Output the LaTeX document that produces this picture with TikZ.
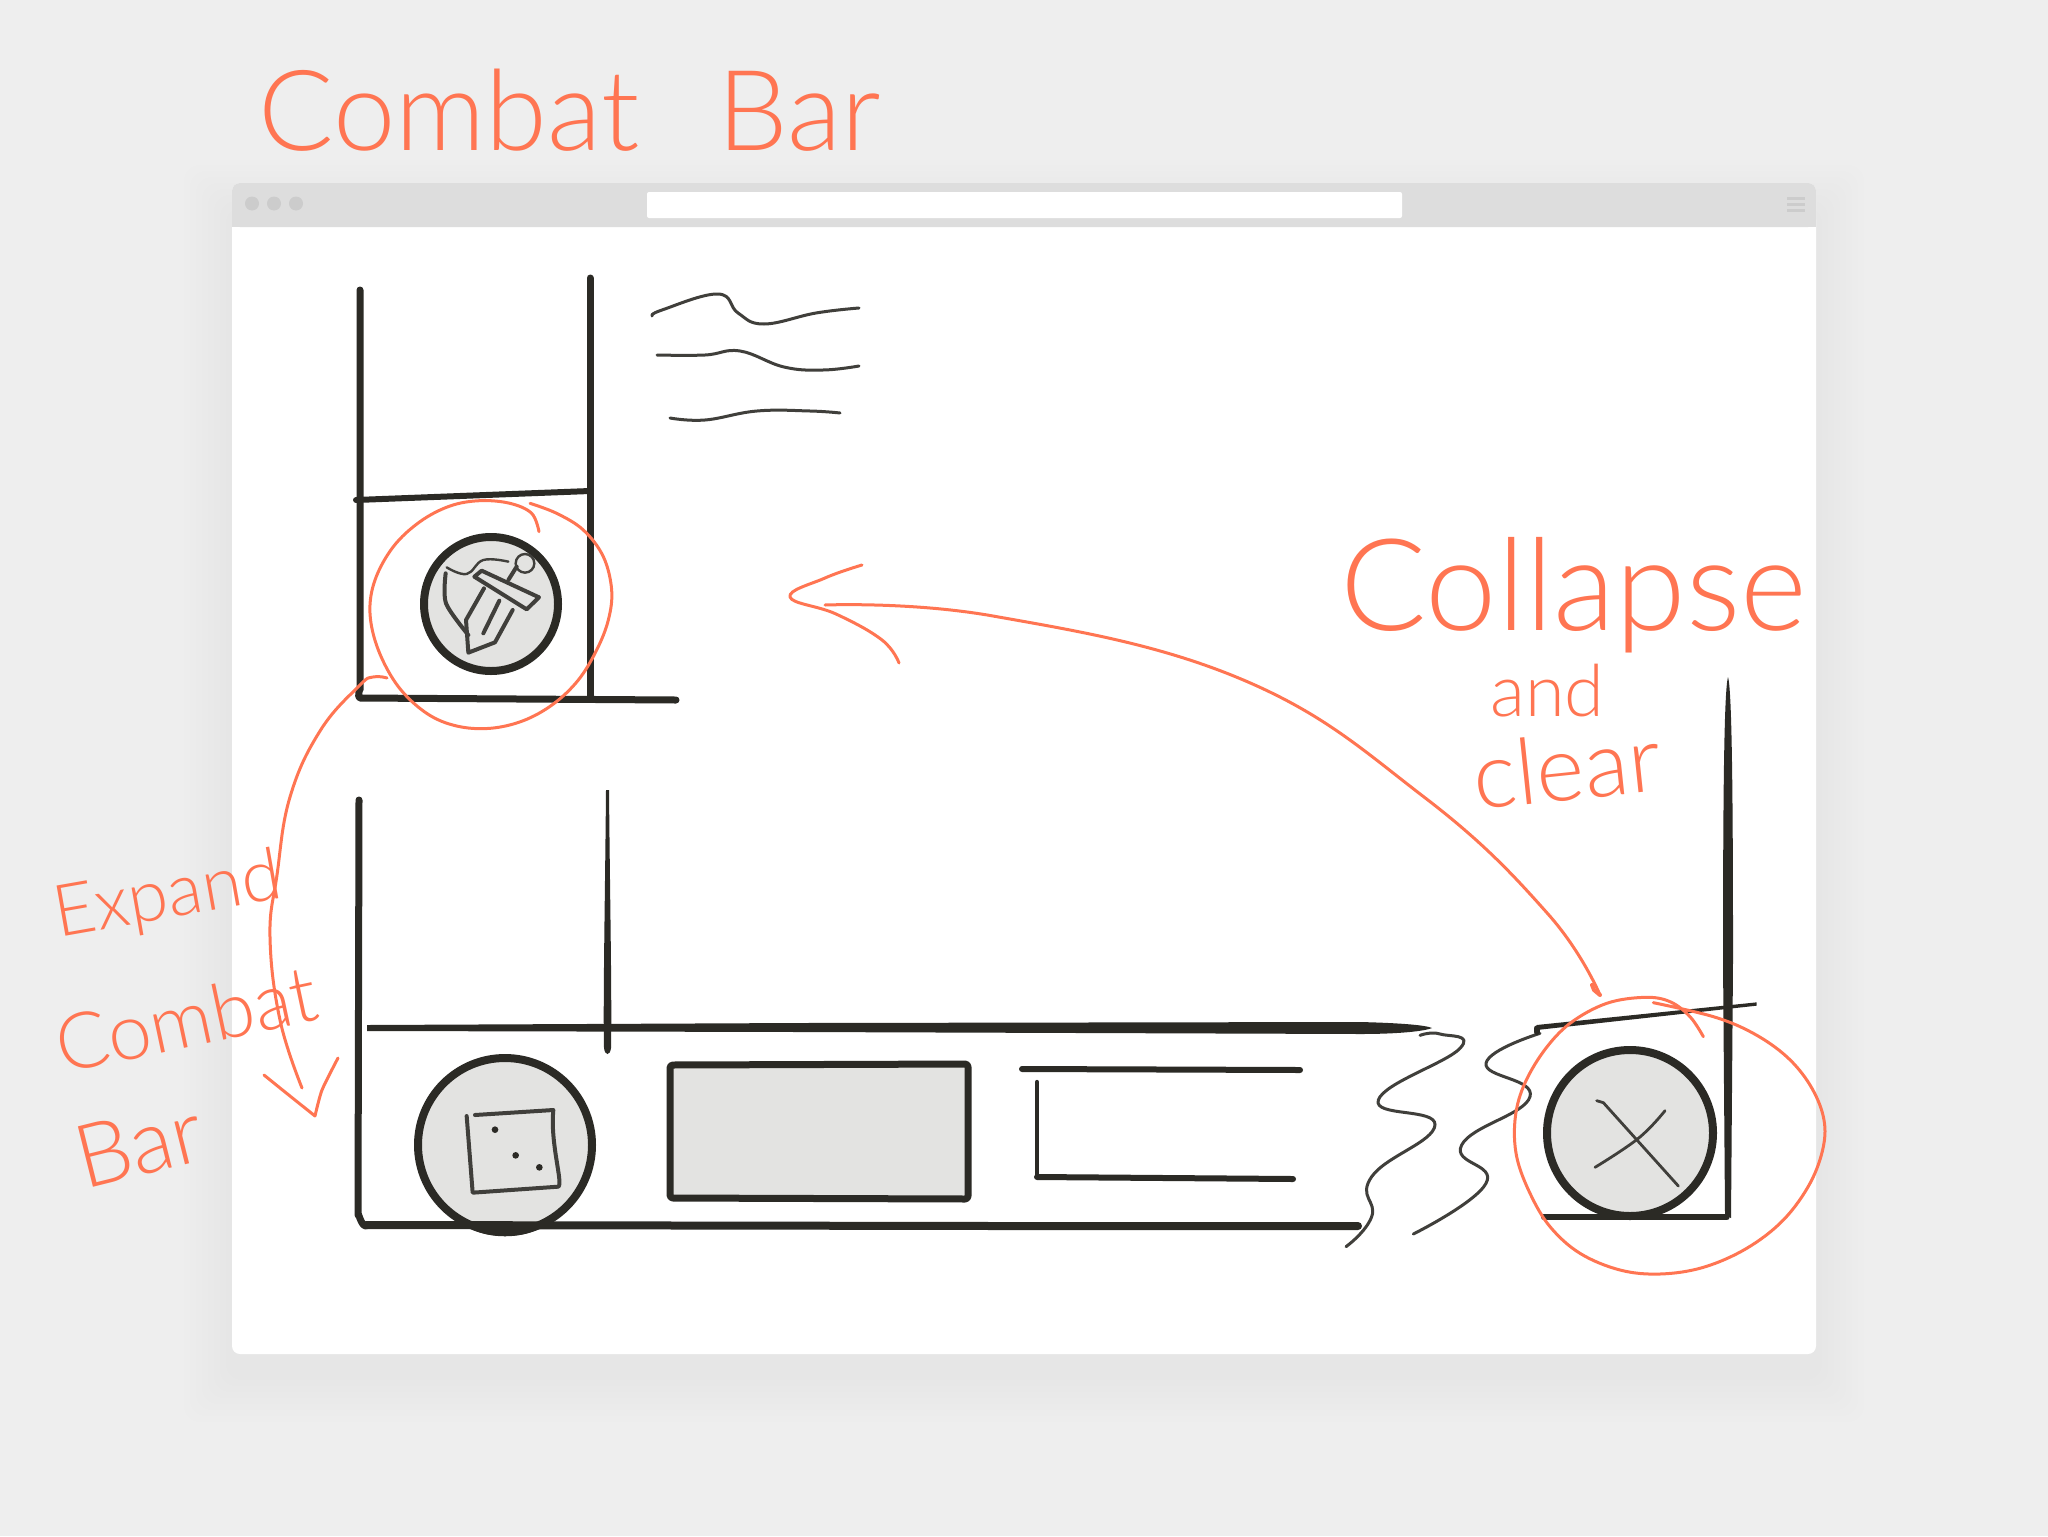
\documentclass[tikz,border=0pt]{standalone}
\usepackage{fontspec}
\newfontfamily\handfont{Lato Light}
\definecolor{pagegray}{HTML}{EEEEEE}
\definecolor{barcolor}{HTML}{DDDDDD}
\definecolor{dotcolor}{HTML}{CCCCCC}
\definecolor{inkcolor}{HTML}{2B2A25}
\definecolor{iconfill}{HTML}{E3E3E1}
\definecolor{redpen}{HTML}{FF7552}
\begin{document}
\begin{tikzpicture} [x=0.5pt,y=-0.5pt,{ink/.style={draw=inkcolor,line width=3.5pt,line cap=round,line join=round}},{thinink/.style={draw=inkcolor!90,line width=1.5pt,line cap=round,line join=round}},{iconline/.style={draw=inkcolor!90,line width=2pt,line cap=round,line join=round}},{penline/.style={draw=redpen,line width=1.5pt,line cap=round,line join=round}},{iconcircle/.style={circle,draw=inkcolor,fill=iconfill,line width=4pt,inner sep=0pt}},{handtext/.style={text=redpen,anchor=base west,inner sep=0pt,font=\handfont}}]
	\useasboundingbox (0,0) rectangle (2048,1536);
	%%page
	\fill [pagegray] (0,0) rectangle (2048,1536);
	%shadow
	\foreach \d in {6,12,...,48}
		\fill [black,opacity=0.004,rounded corners=8pt] (232-\d,183+30-\d) rectangle (1816+\d,1354+20+\d);
	%%window
	\fill [white,rounded corners=4pt] (232,183) rectangle (1816,1354);
	\fill [barcolor,rounded corners=4pt] (232,183) rectangle (1816,227);
	\fill [barcolor] (232,205) rectangle (1816,227);
	\fill [white,rounded corners=1pt] (647,192) rectangle (1402,218);
	\foreach \x in {252,274,296}
		\fill [dotcolor] (\x,203.5) circle [radius=3.5pt];
	\foreach \y in {198,204,210}
		\draw [dotcolor,line width=1.5pt] (1787,\y) -- (1805,\y);
	%%upper panel
	\draw [ink] (360,290) -- (360,690) to[out=90,in=180] (360,698) -- (676,700);
	\draw [ink] (590,278) -- (590,697);
	\draw [ink,line width=3pt] (356,500) -- (590,491);
	%%text lines
	\draw [thinink] plot [smooth,tension=0.7] coordinates {(652,316) (662,310) (718,294) (738,313) (764,324) (816,313) (859,308)};
	\draw [thinink] plot [smooth,tension=0.7] coordinates {(657,355) (705,355) (740,351) (784,367) (823,370) (859,366)};
	\draw [thinink] plot [smooth,tension=0.7] coordinates {(670,418) (705,420) (757,411) (810,411) (840,413)};
	%%sword icon
	\node at (491,604) [iconcircle,minimum size=67pt] (swordicon) {};
	\begin{scope}[shift={(340,480)},scale=1/3]
		\draw [iconline,line width=1.2pt] plot [smooth,tension=0.7] coordinates {(320,262) (380,282) (430,240) (505,245)};
		\draw [iconline] plot [smooth,tension=0.5] coordinates {(317,280) (318,370) (385,465)};
		\draw [iconline,fill=iconfill] (403,290) -- (425,272) -- (597,352) -- (560,388) -- cycle;
		\draw [iconline] (505,300) -- (530,260);
		\draw [iconline,line width=1.2pt] (555,250) circle [radius=14pt];
		\draw [iconline] (432,325) -- (378,420) -- (385,518) -- (465,487) -- (518,390);
		\draw [iconline] (478,362) -- (430,460);
	\end{scope}
	%%lower panel
	\draw [ink] (359,800) -- (358,1215) to[out=90,in=180] (366,1226);
	\node at (505,1145) [iconcircle,minimum size=87pt] (diceicon) {};
	\fill [inkcolor] (462,1222) .. controls (480,1241) and (530,1241) .. (548,1222) -- cycle;
	\draw [ink,line width=4pt] (366,1225) -- (1000,1226) -- (1358,1226);
	\fill [inkcolor] (606,790) .. controls (605,900) and (603,1000) .. (604,1048) .. controls (605,1056) and (610,1056) .. (611,1048) .. controls (612,1000) and (610,900) .. (609,790) -- cycle;
	\fill [inkcolor] (367,1025) -- (800,1023) -- (1360,1022) .. controls (1400,1023) and (1425,1025) .. (1432,1028) .. controls (1425,1031) and (1400,1034) .. (1360,1034) -- (800,1032) -- (367,1031) -- cycle;
	\begin{scope}[shift={(400,1030)},scale=1/3]
		\draw [iconline] (200,258) -- (218,488) -- (475,470) .. controls (490,460) and (450,340) .. (460,240) -- (225,255);
		\fill [inkcolor] (285,299) circle [radius=5pt];
		\fill [inkcolor] (347,376) circle [radius=5pt];
		\fill [inkcolor] (418,412) circle [radius=5pt];
	\end{scope}
	\draw [ink,fill=iconfill,rounded corners=1.5pt] (670,1065) -- (968,1064) -- (968,1199) -- (670,1198) -- cycle;
	\draw [ink,line width=3pt] (1022,1069) -- (1300,1070);
	\draw [ink,line width=2.2pt] (1037,1082) -- (1037,1177);
	\draw [ink,line width=3pt] (1037,1177) -- (1293,1179);
	%%break lines
	\begin{scope}[shift={(1340,960)},scale=1/3]
		\draw [thinink] plot [smooth,tension=0.8] coordinates {(240,226) (300,222) (360,265) (115,420) (285,495) (95,650) (95,770) (18,860)};
		\draw [thinink] plot [smooth,tension=0.8] coordinates {(600,220) (438,310) (570,410) (365,555) (438,670) (220,822)};
	\end{scope}
	%%right panel
	\node at (1630,1133) [iconcircle,minimum size=83pt] (closeicon) {};
	\begin{scope}[shift={(1340,960)},scale=1/3]
		\draw [iconline,line width=1.4pt] (770,422) -- (790,428) -- (1015,678);
		\draw [iconline,line width=1.4pt] plot [smooth,tension=0.7] coordinates {(975,452) (895,535) (765,622)};
		\draw [ink,line width=3pt] (590,205) -- (590,216);
		\fill [inkcolor] (590,195) -- (1250,127) -- (1250,137) -- (590,210) -- cycle;
		\draw [ink,line width=3pt] (612,772) -- (1160,772);
	\end{scope}
	\fill [inkcolor] (1728,677) .. controls (1724,690) and (1723,800) .. (1723,960) -- (1725,1215) -- (1731,1218) -- (1733,960) .. controls (1733,800) and (1732,690) .. (1728,677) -- cycle;
	%%red circles
	\begin{scope}[shift={(340,480)},scale=1/3]
		\draw [penline] plot [smooth,tension=0.6] coordinates {(597,155) (575,100) (510,70) (420,62) (330,78) (240,125) (160,200) (105,300) (90,400) (115,510) (175,620) (260,700) (350,738) (450,745) (550,722) (640,672) (715,600) (770,510) (805,420) (815,330) (790,230) (730,150) (650,100) (570,70)};
	\end{scope}
	\begin{scope}[shift={(1340,960)},scale=1/3]
		\draw [penline] plot [smooth,tension=0.6] coordinates {(1090,230) (1050,170) (990,125) (915,112) (800,130) (690,190) (610,275) (550,380) (525,480) (530,590) (570,700) (630,800) (720,880) (840,930) (960,942) (1090,922) (1220,865) (1330,780) (1410,670) (1450,560) (1450,470) (1410,375) (1340,290) (1240,220) (1120,170) (940,128)};
	\end{scope}
	%%red arrows
	\coordinate (collapsestart) at (1600,995);
	\coordinate (collapseend) at (825,605);
	\draw [penline] plot [smooth,tension=0.7] coordinates {(collapsestart) (1548,914) (1424,797) (1241,679) (993,616) (collapseend)};
	\draw [penline,line width=2pt] (1592,985) -- (1594,990) -- (collapsestart);
	\draw [penline] plot [smooth,tension=0.7] coordinates {(862,565) (825,578) (790,597) (836,614) (882,640) (899,663)};
	\coordinate (expandstart) at (387,678);
	\coordinate (expandend) at (302,1088);
	\draw [penline] plot [smooth,tension=0.7] coordinates {(expandstart) (373,677) (359,686) (320,731) (290,797) (277,875) (270,937) (280,1020) (expandend)};
	\draw [penline] plot [smooth,tension=0.4] coordinates {(264,1075) (285,1092) (315,1116)};
	\draw [penline] plot [smooth,tension=0.4] coordinates {(315,1116) (322,1090) (338,1058)};
	%%handwriting
	\node at (258,150) [handtext,font=\handfont\fontsize{56}{60}\selectfont] (combattitle) {Combat\hspace{24pt} Bar};
	\node at (58,938) [handtext,rotate=10,font=\handfont\fontsize{36}{40}\selectfont] (expandlabel) {Expand};
	\node at (62,1074) [handtext,rotate=12,font=\handfont\fontsize{39}{40}\selectfont] (combatlabel) {Combat};
	\node at (84,1190) [handtext,rotate=14,font=\handfont\fontsize{44}{50}\selectfont] (barlabel) {Bar};
	\node at (1340,630) [handtext,font=\handfont\fontsize{64}{70}\selectfont] (collapselabel) {Collapse};
	\node at (1490,716) [handtext,font=\handfont\fontsize{36}{40}\selectfont] (andlabel) {and};
	\node at (1476,810) [handtext,rotate=6,font=\handfont\fontsize{46}{50}\selectfont] (clearlabel) {clear};
\end{tikzpicture}
\end{document}
